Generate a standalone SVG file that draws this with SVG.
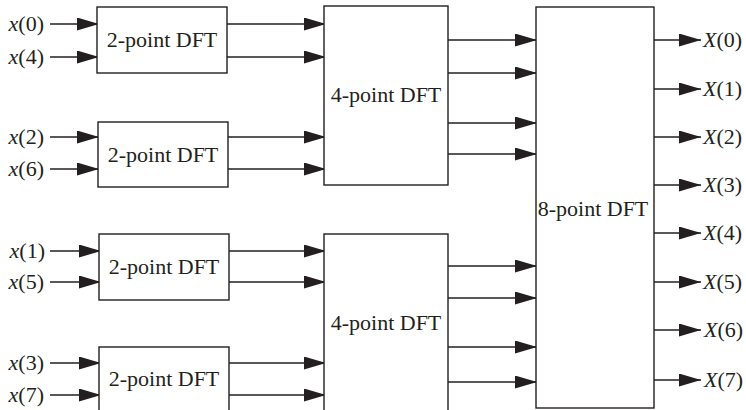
<svg xmlns="http://www.w3.org/2000/svg" width="746" height="410" viewBox="0 0 746 410">
<defs>
<marker id="ah" markerUnits="userSpaceOnUse" markerWidth="24" markerHeight="14" refX="22" refY="6.5" orient="auto">
<path d="M0,0 L22,6.5 L0,13 Z" fill="#231f20"/>
</marker>
<style>
.box{fill:#fff;stroke:#231f20;stroke-width:1.4}
.c line{stroke:#231f20;stroke-width:1.4;marker-end:url(#ah)}
.lbl{text-anchor:middle}
.in{text-anchor:end}
</style>
</defs>
<rect width="746" height="410" fill="#fff"/>
<g id="connectors" class="c">
<line x1="50" y1="24" x2="99" y2="24"/>
<line x1="50" y1="57" x2="99" y2="57"/>
<line x1="50" y1="137" x2="99" y2="137"/>
<line x1="50" y1="169" x2="99" y2="169"/>
<line x1="50" y1="251" x2="101" y2="251"/>
<line x1="50" y1="282" x2="101" y2="282"/>
<line x1="50" y1="363" x2="101" y2="363"/>
<line x1="50" y1="395" x2="101" y2="395"/>
<line x1="227" y1="24" x2="326" y2="24"/>
<line x1="227" y1="57" x2="326" y2="57"/>
<line x1="228" y1="137" x2="326" y2="137"/>
<line x1="228" y1="169" x2="326" y2="169"/>
<line x1="229" y1="251" x2="326" y2="251"/>
<line x1="229" y1="282" x2="326" y2="282"/>
<line x1="229" y1="363" x2="326" y2="363"/>
<line x1="229" y1="395" x2="326" y2="395"/>
<line x1="448" y1="40" x2="537" y2="40"/>
<line x1="448" y1="73" x2="537" y2="73"/>
<line x1="448" y1="123" x2="537" y2="123"/>
<line x1="448" y1="154" x2="537" y2="154"/>
<line x1="448" y1="266" x2="537" y2="266"/>
<line x1="448" y1="298" x2="537" y2="298"/>
<line x1="448" y1="347" x2="537" y2="347"/>
<line x1="448" y1="382" x2="537" y2="382"/>
<line x1="654" y1="40" x2="701" y2="40"/>
<line x1="654" y1="89" x2="701" y2="89"/>
<line x1="654" y1="137" x2="701" y2="137"/>
<line x1="654" y1="185" x2="701" y2="185"/>
<line x1="654" y1="233" x2="701" y2="233"/>
<line x1="654" y1="282" x2="701" y2="282"/>
<line x1="654" y1="330" x2="701" y2="330"/>
<line x1="654" y1="380" x2="701" y2="380"/>
</g>
<g style="font-family:'Liberation Serif','Times New Roman',serif;font-size:22px" fill="#231f20">
<g id="dft2a"><rect class="box" x="97" y="7" width="130" height="66"/><text class="lbl" x="162" y="47">2-point DFT</text></g>
<g id="dft2b"><rect class="box" x="98" y="122" width="130" height="65"/><text class="lbl" x="163" y="162">2-point DFT</text></g>
<g id="dft2c"><rect class="box" x="99" y="234" width="130" height="66"/><text class="lbl" x="164" y="274">2-point DFT</text></g>
<g id="dft2d"><rect class="box" x="99" y="347" width="130" height="70"/><text class="lbl" x="164" y="386">2-point DFT</text></g>
<g id="dft4a"><rect class="box" x="324" y="6" width="124" height="179"/><text class="lbl" x="386" y="102">4-point DFT</text></g>
<g id="dft4b"><rect class="box" x="324" y="234" width="124" height="185"/><text class="lbl" x="386" y="330">4-point DFT</text></g>
<g id="dft8"><rect class="box" x="536" y="7" width="118" height="401"/><text class="lbl" x="593" y="216">8-point DFT</text></g>
<g id="inputs">
<text class="in" x="44" y="31"><tspan font-style="italic">x</tspan>(0)</text>
<text class="in" x="44" y="64"><tspan font-style="italic">x</tspan>(4)</text>
<text class="in" x="44" y="144"><tspan font-style="italic">x</tspan>(2)</text>
<text class="in" x="44" y="176"><tspan font-style="italic">x</tspan>(6)</text>
<text class="in" x="45" y="258"><tspan font-style="italic">x</tspan>(1)</text>
<text class="in" x="44" y="289"><tspan font-style="italic">x</tspan>(5)</text>
<text class="in" x="44" y="370"><tspan font-style="italic">x</tspan>(3)</text>
<text class="in" x="44" y="402"><tspan font-style="italic">x</tspan>(7)</text>
</g>
<g id="outputs">
<text x="703" y="47"><tspan font-style="italic">X</tspan>(0)</text>
<text x="703" y="96"><tspan font-style="italic">X</tspan>(1)</text>
<text x="703" y="144"><tspan font-style="italic">X</tspan>(2)</text>
<text x="703" y="192"><tspan font-style="italic">X</tspan>(3)</text>
<text x="703" y="240"><tspan font-style="italic">X</tspan>(4)</text>
<text x="703" y="289"><tspan font-style="italic">X</tspan>(5)</text>
<text x="704" y="337"><tspan font-style="italic">X</tspan>(6)</text>
<text x="704" y="387"><tspan font-style="italic">X</tspan>(7)</text>
</g>
</g>
</svg>
